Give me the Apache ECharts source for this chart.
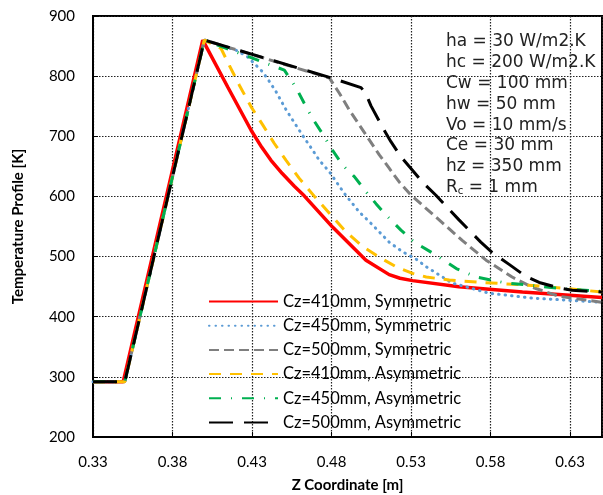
<!DOCTYPE html>
<html>
<head>
<meta charset="utf-8">
<script src="https://cdn.jsdelivr.net/npm/echarts@6/dist/echarts.min.js"></script>
<style>
  html, body { margin: 0; padding: 0; background: #fff; }
  #chart { width: 603px; height: 495px; }
</style>
</head>
<body>
<div id="chart"></div>
<script>
// series data: [z (m), T (K)]
const sym410 = [[0.33,292],[0.349,292],[0.399,860],[0.4147,782],[0.4294,710],[0.436,682],[0.4419,660],[0.449,638],[0.4566,617],[0.4628,601],[0.4806,549],[0.5016,494],[0.5162,470],[0.523,464],[0.5309,460],[0.56,450],[0.60,441],[0.65,432]];
const sym450 = [[0.33,292],[0.35,292],[0.40,860],[0.42,843],[0.4272,832],[0.4367,807],[0.4409,791],[0.4451,774],[0.4514,744],[0.4555,727],[0.4629,697],[0.4673,680],[0.4723,660],[0.4786,641],[0.488,605],[0.4974,574],[0.5037,558],[0.51,541],[0.5162,524],[0.5246,508],[0.533,496],[0.5395,483],[0.5558,456],[0.5791,439],[0.6061,431],[0.6312,427],[0.65,424]];
const sym500 = [[0.33,292],[0.35,292],[0.40,860],[0.4786,797],[0.4848,772],[0.4911,744],[0.4974,719],[0.5037,694],[0.51,669],[0.5162,647],[0.5225,624],[0.53,602],[0.5476,561],[0.5621,527],[0.5771,494],[0.5935,466],[0.6061,449],[0.623,434],[0.65,424]];
const asym410 = [[0.33,292],[0.35,292],[0.40,860],[0.4105,846],[0.4157,818],[0.422,785],[0.4294,749],[0.4367,719],[0.444,688],[0.4514,660],[0.4597,630],[0.4702,597],[0.4786,572],[0.4891,541],[0.4995,517],[0.51,499],[0.5205,483],[0.5309,472],[0.5395,466],[0.554,461],[0.5746,457],[0.6061,452],[0.6274,447],[0.65,441]];
const asym450 = [[0.33,292],[0.35,292],[0.40,860],[0.4503,810],[0.4578,780],[0.4628,755],[0.4679,730],[0.4741,705],[0.4798,680],[0.4869,652],[0.4943,633],[0.5016,608],[0.5079,588],[0.5142,569],[0.5236,544],[0.532,524],[0.5459,502],[0.5584,480],[0.5709,466],[0.5897,456],[0.6061,452],[0.623,447],[0.65,442]];
const asym500 = [[0.33,292],[0.35,292],[0.40,860],[0.48,797],[0.4985,781],[0.5015,771],[0.5047,751],[0.5118,716],[0.5173,691],[0.5236,666],[0.5307,644],[0.537,624],[0.5456,602],[0.5601,561],[0.5675,541],[0.5738,524],[0.5809,507],[0.5916,487],[0.6021,467],[0.6105,457],[0.623,448],[0.6312,444],[0.65,441]];

const seriesNames = ['Cz=410mm, Symmetric', 'Cz=450mm, Symmetric', 'Cz=500mm, Symmetric',
                     'Cz=410mm, Asymmetric', 'Cz=450mm, Asymmetric', 'Cz=500mm, Asymmetric'];
const paramLines = ['ha = 30 W/m2.K', 'hc = 200 W/m2.K', 'Cw = 100 mm', 'hw = 50 mm',
                    'Vo = 10 mm/s', 'Ce = 30 mm', 'hz = 350 mm'];

const styles = [
  { color: '#FF0000', width: 3.5, type: 'solid' },
  { color: '#5B9BD5', width: 3, type: [0.5, 6], cap: 'round' },
  { color: '#7F7F7F', width: 3, type: [10, 5] },
  { color: '#FFC000', width: 3, type: [12, 9] },
  { color: '#00B050', width: 3, type: [12, 10, 1, 10] },
  { color: '#000000', width: 3, type: [24, 11] }
];
const allData = [sym410, sym450, sym500, asym410, asym450, asym500];

var myChart = echarts.init(document.getElementById('chart'));

const txtFont = 'Lato, "Open Sans", sans-serif';
const noteFont = '"DejaVu Sans", sans-serif';

var graphics = paramLines.map(function (s, i) {
  return {
    type: 'text', left: 446, top: 33 + i * 20.9,
    style: { text: s, font: '17px ' + noteFont, fill: '#222' }
  };
});
graphics.push({
  type: 'text', left: 446, top: 33 + 7 * 20.9,
  style: {
    text: '{a|R}{s|c}{a| = 1 mm}',
    rich: {
      a: { fontSize: 17, fontFamily: noteFont, fill: '#222' },
      s: { fontSize: 10, fontFamily: noteFont, fill: '#222', padding: [8, 0, 0, 0] }
    }
  }
});

var option = {
  animation: false,
  backgroundColor: '#fff',
  grid: { left: 93, right: 1, top: 16, bottom: 58, show: true, borderColor: '#000', borderWidth: 2, outerBoundsMode: 'none' },
  legend: {
    data: seriesNames,
    orient: 'vertical',
    left: 208, top: 293, padding: 0,
    itemWidth: 69, itemHeight: 16, itemGap: 7.2,
    itemStyle: { opacity: 0 },
    textStyle: { fontFamily: txtFont, fontSize: 16.5, color: '#000' }
  },
  xAxis: {
    type: 'value', min: 0.33, max: 0.65, interval: 0.05,
    name: 'Z Coordinate [m]', nameLocation: 'middle', nameGap: 41,
    nameTextStyle: { fontFamily: txtFont, fontSize: 15, fontWeight: 'bold', color: '#000' },
    axisLine: { lineStyle: { color: '#000', width: 2 } },
    axisTick: { inside: true, length: 5, lineStyle: { color: '#000' } },
    axisLabel: { margin: 18, fontFamily: txtFont, fontSize: 15, color: '#000', showMaxLabel: false,
                 formatter: function (v) { return v.toFixed(2); } },
    splitLine: { lineStyle: { color: '#222', type: [1.5, 1.5], width: 1.2 } }
  },
  yAxis: {
    type: 'value', min: 200, max: 900, interval: 100,
    name: 'Temperature Profile [K]', nameLocation: 'middle', nameGap: 67,
    nameTextStyle: { fontFamily: txtFont, fontSize: 15, fontWeight: 'bold', color: '#000' },
    axisLine: { show: true, lineStyle: { color: '#000', width: 2 } },
    axisTick: { show: true, inside: true, length: 5, lineStyle: { color: '#000' } },
    axisLabel: { margin: 18, fontFamily: txtFont, fontSize: 15, color: '#000' },
    splitLine: { lineStyle: { color: '#222', type: [1.5, 1.5], width: 1.2 } }
  },
  graphic: graphics,
  series: allData.map(function (d, i) {
    return {
      name: seriesNames[i], type: 'line', data: d, symbol: 'none', smooth: false,
      itemStyle: { color: styles[i].color },
      lineStyle: { color: styles[i].color, width: styles[i].width, type: styles[i].type, cap: styles[i].cap || 'butt' }
    };
  })
};

myChart.setOption(option);
</script>
</body>
</html>
